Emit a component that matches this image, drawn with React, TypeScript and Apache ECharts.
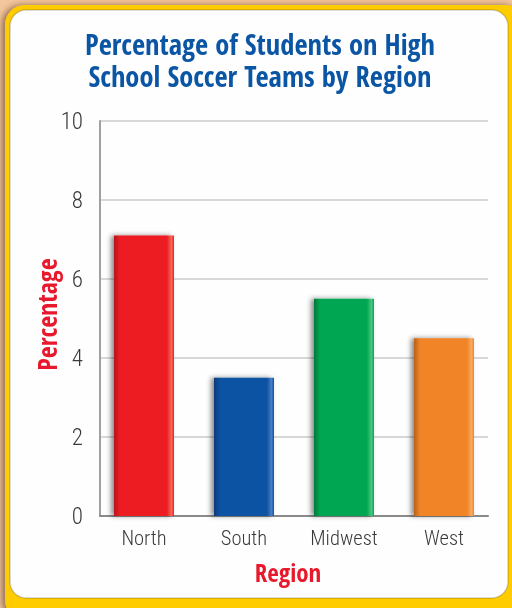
import React, { useEffect, useRef } from "react";
import * as echarts from "echarts";

const titleLines = ["Percentage of Students on High", "School Soccer Teams by Region"];
const regions = ["North", "South", "Midwest", "West"];
const percentages = [7.1, 3.5, 5.5, 4.5];
const barColors = [
  ["#b8141b", "#ed1c24", "#f36a5a"],
  ["#083a78", "#0b52a3", "#4a7fc4"],
  ["#007a3a", "#00a651", "#4cc583"],
  ["#b8601a", "#f08427", "#f8aa66"],
];
const yMin = 0;
const yMax = 10;
const yStep = 2;
const xAxisName = "Region";
const yAxisName = "Percentage";

const COND = '"Open Sans Condensed", "Roboto Condensed", "DejaVu Sans Condensed", sans-serif';
const LIGHT = '"Roboto Condensed", "DejaVu Sans Condensed", sans-serif';

export default function App() {
  const ref = useRef<HTMLDivElement>(null);
  useEffect(() => {
    if (!ref.current) return;
    const chart = echarts.init(ref.current, undefined, { renderer: "svg" });
    const barData = percentages.map((v, i) => ({
      value: v,
      itemStyle: {
        color: new echarts.graphic.LinearGradient(0, 0, 1, 0, [
          { offset: 0, color: barColors[i][0] },
          { offset: 0.1, color: barColors[i][1] },
          { offset: 0.88, color: barColors[i][1] },
          { offset: 0.96, color: barColors[i][2] },
          { offset: 1, color: barColors[i][1] },
        ]),
        shadowColor: "rgba(0,0,0,0.45)",
        shadowBlur: 5,
        shadowOffsetX: -3,
        shadowOffsetY: 0,
      },
    }));
    chart.setOption({
      animation: false,
      graphic: [
        { type: "rect", z: -10, silent: true, shape: { x: 0, y: 0, width: 512, height: 608 }, style: { fill: "#f4c69c" } },
        {
          type: "rect", z: -9, silent: true,
          shape: { x: 5, y: 5, width: 520, height: 615, r: 20 },
          style: { fill: "#ffcc00", shadowColor: "rgba(80,50,30,0.6)", shadowBlur: 6, shadowOffsetX: -3 },
        },
        {
          type: "rect", z: -8, silent: true,
          shape: { x: 10, y: 10, width: 498, height: 588, r: 16 },
          style: { fill: "#fefefe", stroke: "rgba(0,0,0,0.18)", lineWidth: 1.5 },
        },
      ],
      title: {
        text: titleLines.join("\n"),
        left: 255,
        top: 23,
        textAlign: "center",
        textStyle: {
          fontFamily: COND,
          fontWeight: "bold",
          fontSize: 28.5,
          lineHeight: 32,
          color: "#0b55a5",
        },
      },
      grid: [
        { left: 100, right: 24, top: 121, bottom: 92 },
        { left: 94, right: 18, top: 121, bottom: 92 },
      ],
      xAxis: [
        {
          type: "value", gridIndex: 0, min: 0, max: 1,
          axisLine: { show: true, lineStyle: { color: "#8a8a8a", width: 2 } },
          axisTick: { show: false }, axisLabel: { show: false }, splitLine: { show: false },
        },
        {
          type: "category", gridIndex: 1, data: regions,
          axisLine: { show: false }, axisTick: { show: false },
          axisLabel: { fontFamily: LIGHT, fontWeight: 300, fontSize: 20.5, color: "#3a3a3a", margin: 11, interval: 0 },
          name: xAxisName, nameLocation: "middle", nameGap: 43, nameMoveOverlap: false,
          nameTextStyle: { fontFamily: COND, fontWeight: "bold", fontSize: 25, color: "#e8192c", padding: [0, 12, 0, 0] },
        },
      ],
      yAxis: [
        {
          type: "value", gridIndex: 0, min: yMin, max: yMax, interval: yStep,
          axisLine: { show: true, lineStyle: { color: "#a0a0a0", width: 2 } },
          axisTick: { show: false },
          splitLine: { show: true, lineStyle: { color: "#d8d8d8", width: 2 } },
          axisLabel: { fontFamily: LIGHT, fontWeight: 300, fontSize: 23, color: "#3a3a3a", margin: 17 },
          name: yAxisName, nameLocation: "middle", nameRotate: 90, nameGap: 40, nameMoveOverlap: false,
          nameTextStyle: { fontFamily: COND, fontWeight: "bold", fontSize: 26, color: "#e8192c", padding: [0, 0, 0, 8] },
        },
        {
          type: "value", gridIndex: 1, min: yMin, max: yMax, interval: yStep, show: false,
        },
      ],
      series: [
        {
          type: "bar", xAxisIndex: 1, yAxisIndex: 1,
          data: barData, barWidth: 60,
        },
      ],
    });
    return () => chart.dispose();
  }, []);
  return <div ref={ref} style={{ position: "fixed", left: 0, top: 0, width: 512, height: 608 }} />;
}
